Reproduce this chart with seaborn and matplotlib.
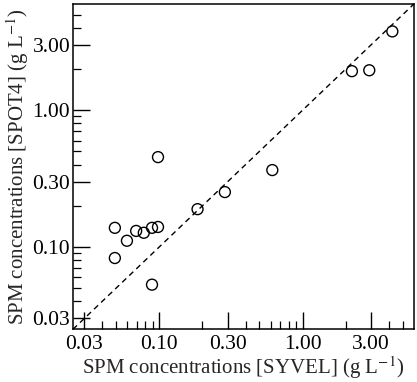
import pandas as pd
import matplotlib
matplotlib.use('Agg')
import matplotlib.pyplot as plt
import seaborn as sns
from matplotlib.ticker import FixedLocator, FormatStrFormatter

# SPM values (g/L)
syvel = [0.049, 0.049, 0.0595, 0.069, 0.078, 0.089, 0.098, 0.089, 0.098,
         0.185, 0.287, 0.615, 2.21, 2.92, 4.23]
spot4 = [0.138, 0.083, 0.111, 0.131, 0.127, 0.138, 0.140, 0.053, 0.454,
         0.189, 0.252, 0.365, 1.93, 1.96, 3.77]
major_ticks = [0.03, 0.10, 0.30, 1.00, 3.00]
minor_ticks = [0.04, 0.05, 0.06, 0.07, 0.08, 0.09, 0.2, 0.4, 0.5, 0.6,
               0.7, 0.8, 0.9, 2, 4, 5]
lims = (0.025, 6.0)

data = pd.DataFrame({'SYVEL': syvel, 'SPOT4': spot4})

sns.set_style('ticks')
plt.rcParams['font.family'] = ['Liberation Serif', 'DejaVu Serif']
plt.rcParams['mathtext.fontset'] = 'stix'

fig = plt.figure(figsize=(4.17, 3.82), dpi=100)
ax = fig.add_axes([0.175, 0.138, 0.818, 0.852])

# 1:1 line
ax.plot(lims, lims, color='black', linestyle=(0, (4, 3)), linewidth=1.0)

sns.scatterplot(data=data, x='SYVEL', y='SPOT4', ax=ax, marker='o', s=62,
                facecolor='none', edgecolor='black', linewidth=1.0)

ax.set_xscale('log')
ax.set_yscale('log')
ax.set_xlim(lims)
ax.set_ylim(lims)
for axis in (ax.xaxis, ax.yaxis):
    axis.set_major_locator(FixedLocator(major_ticks))
    axis.set_minor_locator(FixedLocator(minor_ticks))
    axis.set_major_formatter(FormatStrFormatter('%.2f'))
ax.tick_params(which='major', direction='in', length=12, width=1.0,
               labelsize=15.5, colors='black')
ax.tick_params(axis='x', which='major', pad=4)
ax.tick_params(axis='y', which='major', pad=2)
ax.tick_params(which='minor', direction='in', length=6, width=0.9,
               colors='black')
ax.tick_params(top=False, right=False, which='both')
for s in ax.spines.values():
    s.set_color('black')
    s.set_linewidth(1.1)

ax.set_xlabel('SPM concentrations [SYVEL] (g L$^{-1}$)', fontsize=15, labelpad=0)
ax.set_ylabel('SPM concentrations [SPOT4] (g L$^{-1}$)', fontsize=15, labelpad=1)

plt.savefig('out.png', dpi=100)
